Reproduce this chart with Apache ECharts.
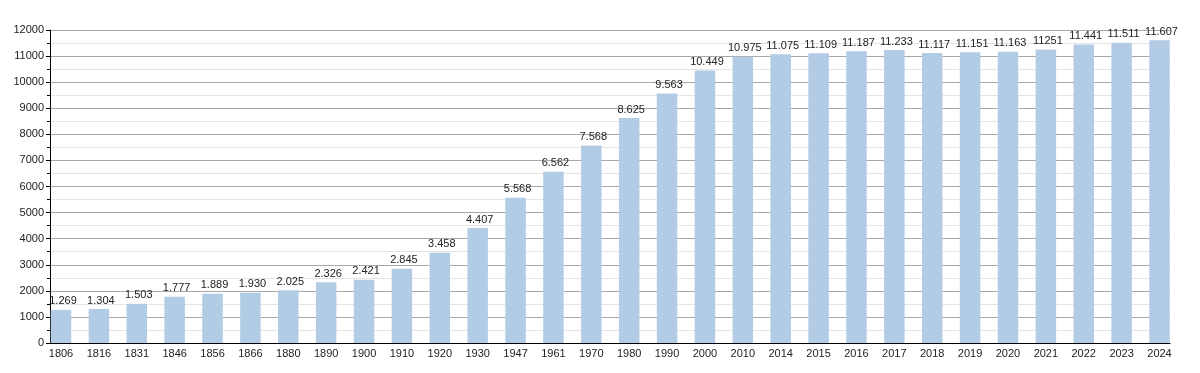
<!DOCTYPE html>
<html>
<head>
<meta charset="utf-8">
<script src="https://cdn.jsdelivr.net/npm/echarts@6/dist/echarts.min.js"></script>
<style>html,body{margin:0;padding:0;background:#fff}#c{width:1200px;height:373px}</style>
</head>
<body>
<div id="c"></div>
<script>
var years = ['1806','1816','1831','1846','1856','1866','1880','1890','1900','1910','1920','1930','1947','1961','1970','1980','1990','2000','2010','2014','2015','2016','2017','2018','2019','2020','2021','2022','2023','2024'];
var population = [1269,1304,1503,1777,1889,1930,2025,2326,2421,2845,3458,4407,5568,6562,7568,8625,9563,10449,10975,11075,11109,11187,11233,11117,11151,11163,11251,11441,11511,11607];
var valueLabels = ['1.269','1.304','1.503','1.777','1.889','1.930','2.025','2.326','2.421','2.845','3.458','4.407','5.568','6.562','7.568','8.625','9.563','10.449','10.975','11.075','11.109','11.187','11.233','11.117','11.151','11.163','11251','11.441','11.511','11.607'];
var yMin = 0, yMax = 12000, yStep = 1000;

var font = 'Liberation Sans, Arial, sans-serif';
var chart = echarts.init(document.getElementById('c'), null, {renderer: 'canvas'});
chart.setOption({
  animation: false,
  backgroundColor: '#fff',
  grid: [
    {left: 50, right: 30, top: 30, bottom: 30},
    {left: 61, right: 40.5, top: 30, bottom: 30}
  ],
  xAxis: [
    {
      type: 'category', gridIndex: 0, data: years,
      axisLine: {show: true, lineStyle: {color: '#000', width: 1}},
      axisTick: {show: false}, axisLabel: {show: false}, splitLine: {show: false}
    },
    {
      type: 'category', gridIndex: 1, data: years, boundaryGap: false,
      axisLine: {show: false}, axisTick: {show: false},
      axisLabel: {show: true, interval: 0, color: '#222', fontSize: 11, fontFamily: font, margin: 5},
      splitLine: {show: false}
    }
  ],
  yAxis: [
    {
      type: 'value', gridIndex: 0, min: yMin, max: yMax, interval: yStep,
      axisLine: {show: true, lineStyle: {color: '#000', width: 1}},
      axisTick: {show: true, length: 4, lineStyle: {color: '#000'}},
      minorTick: {show: true, splitNumber: 2, length: 3, lineStyle: {color: '#000'}},
      axisLabel: {color: '#222', fontSize: 11, fontFamily: font, margin: 6,
        formatter: function (v) { return String(v); }},
      splitLine: {show: true, lineStyle: {color: '#a8a8a8', width: 1}},
      minorSplitLine: {show: true, lineStyle: {color: '#e4e4e4', width: 1}}
    },
    {
      type: 'value', gridIndex: 1, min: yMin, max: yMax, interval: yStep, show: false,
      splitLine: {show: false}
    }
  ],
  series: [{
    type: 'bar', xAxisIndex: 1, yAxisIndex: 1,
    data: population, barWidth: 20.5, clip: false,
    itemStyle: {color: '#b3cce6'},
    label: {
      show: true, position: 'top', distance: 3, offset: [2, 0],
      color: '#222', fontSize: 11, fontFamily: font,
      formatter: function (p) { return valueLabels[p.dataIndex]; }
    }
  }]
});
</script>
</body>
</html>
